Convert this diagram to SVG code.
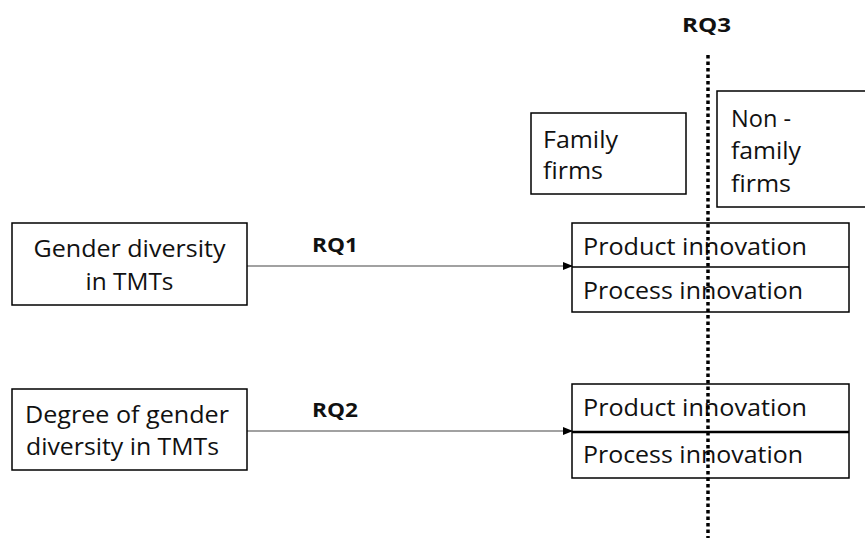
<svg xmlns="http://www.w3.org/2000/svg" width="865" height="538" viewBox="0 0 865 538">
<defs>
<marker id="arr" markerWidth="10" markerHeight="8" refX="9" refY="4" orient="auto" markerUnits="userSpaceOnUse">
<path d="M0,0 L10,4 L0,8 z" fill="#000"/>
</marker>
<style>
.box{fill:#fff;stroke:#000;stroke-width:1.5}
.t{font-family:"Open Sans","Liberation Sans",sans-serif;font-size:23px;fill:#111}
.b{font-family:"Open Sans","Liberation Sans",sans-serif;font-size:20px;font-weight:bold;fill:#111}
.ln{stroke:#444;stroke-width:1.2;fill:none}
</style>
</defs>
<rect width="865" height="538" fill="#fff"/>
<g id="connectors">
<line class="ln" x1="247" y1="266" x2="572" y2="266" marker-end="url(#arr)"/>
<line class="ln" x1="247" y1="431" x2="572" y2="431" marker-end="url(#arr)"/>
</g>
<g id="gender">
<rect class="box" x="12" y="223" width="235" height="82"/>
<text class="t" x="129.5" y="257" text-anchor="middle" textLength="192" lengthAdjust="spacingAndGlyphs">Gender diversity</text>
<text class="t" x="129.5" y="290" text-anchor="middle" textLength="88" lengthAdjust="spacingAndGlyphs">in TMTs</text>
</g>
<g id="degree">
<rect class="box" x="12" y="389" width="235" height="81"/>
<text class="t" x="25" y="423" textLength="204" lengthAdjust="spacingAndGlyphs">Degree of gender</text>
<text class="t" x="26" y="455" textLength="193" lengthAdjust="spacingAndGlyphs">diversity in TMTs</text>
</g>
<g id="family">
<rect class="box" x="531" y="113" width="155" height="81"/>
<text class="t" x="543" y="148" textLength="75" lengthAdjust="spacingAndGlyphs">Family</text>
<text class="t" x="543" y="179" textLength="60" lengthAdjust="spacingAndGlyphs">firms</text>
</g>
<g id="nonfamily">
<rect class="box" x="717" y="91" width="150" height="116"/>
<text class="t" x="731" y="127" textLength="60" lengthAdjust="spacingAndGlyphs">Non -</text>
<text class="t" x="731" y="159" textLength="70" lengthAdjust="spacingAndGlyphs">family</text>
<text class="t" x="731" y="192" textLength="60" lengthAdjust="spacingAndGlyphs">firms</text>
</g>
<g id="outcome1">
<rect class="box" x="572" y="223" width="277" height="89"/>
<line x1="572" y1="267" x2="849" y2="267" stroke="#000" stroke-width="1.5"/>
<text class="t" x="583" y="255" textLength="224" lengthAdjust="spacingAndGlyphs">Product innovation</text>
<text class="t" x="583" y="299" textLength="220" lengthAdjust="spacingAndGlyphs">Process innovation</text>
</g>
<g id="outcome2">
<rect class="box" x="572" y="384" width="277" height="94"/>
<line x1="572" y1="432" x2="849" y2="432" stroke="#000" stroke-width="2.5"/>
<text class="t" x="583" y="416" textLength="224" lengthAdjust="spacingAndGlyphs">Product innovation</text>
<text class="t" x="583" y="463" textLength="220" lengthAdjust="spacingAndGlyphs">Process innovation</text>
</g>
<g id="rq-labels">
<text class="b" x="312" y="252" textLength="46" lengthAdjust="spacingAndGlyphs">RQ1</text>
<text class="b" x="312" y="417" textLength="46" lengthAdjust="spacingAndGlyphs">RQ2</text>
<text class="b" x="682" y="32" textLength="49" lengthAdjust="spacingAndGlyphs">RQ3</text>
</g>
<g id="divider">
<line x1="708" y1="55" x2="708" y2="538" stroke="#000" stroke-width="3.5" stroke-dasharray="3.5 3"/>
</g>
</svg>
